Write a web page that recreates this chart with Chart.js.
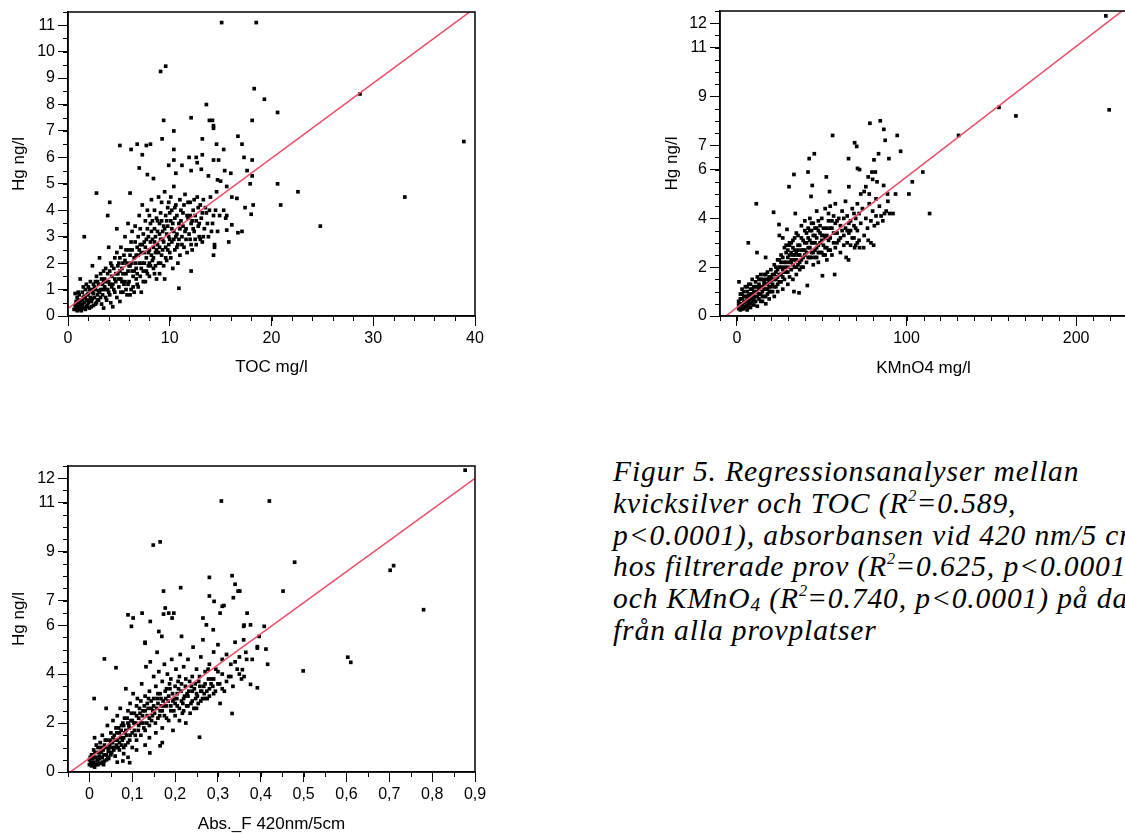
<!DOCTYPE html>
<html lang="sv">
<head>
  <meta charset="UTF-8" />
  <title>Figur 5 – Regressionsanalyser</title>
  <script src="https://cdn.jsdelivr.net/npm/chart.js@4"></script>
  <style>
    body {
      margin: 0;
      width: 1125px;
      height: 834px;
      overflow: hidden;
      position: relative;
      background: #fff;
    }
    canvas { position: absolute; }
    #tocChart { left: 0; top: 0; }
    #kmnChart { left: 650px; top: 0; }
    #absChart { left: 0; top: 454px; }
    #caption {
      position: absolute;
      left: 613px;
      top: 456px;
      font-family: "Liberation Serif", "Times New Roman", serif;
      font-style: italic;
      font-size: 29.5px;
      letter-spacing: 0.9px;
      line-height: 31.8px;
      white-space: nowrap;
      color: #000;
    }
    #caption sup { font-size: 0.55em; line-height: 0; vertical-align: 0.75em; letter-spacing: 0; }
    #caption sub { font-size: 0.65em; line-height: 0; vertical-align: -0.15em; }
  </style>
</head>
<body>
  <canvas id="tocChart" width="490" height="384"></canvas>
  <canvas id="kmnChart" width="490" height="384"></canvas>
  <canvas id="absChart" width="490" height="384"></canvas>

  <div id="caption">Figur 5. Regressionsanalyser mellan<br>kvicksilver och TOC (R<sup>2</sup>=0.589,<br>p&lt;0.0001), absorbansen vid 420 nm/5 cm<br>hos filtrerade prov (R<sup>2</sup>=0.625, p&lt;0.0001)<br>och KMnO<sub>4</sub> (R<sup>2</sup>=0.740, p&lt;0.0001) på data<br>från alla provplatser</div>

  <script>
    // Hg ng/l against TOC mg/l
    const tocPoints = [
      [15.1,11.1],[18.5,11.1],[9.1,9.25],[9.6,9.45],[18.3,8.6],[19.3,8.2],[28.7,8.4],[13.6,8.0],[20.6,7.7],[12.1,7.5],
      [9.4,7.4],[13.9,7.4],[14.2,7.4],[14.3,7.2],[14.3,7.1],[18.1,7.4],[10.4,7.0],[9.25,6.7],[13.2,6.7],[16.7,6.8],
      [17.1,6.5],[5.1,6.45],[6.2,6.3],[6.8,6.5],[7.7,6.45],[8.1,6.5],[7.3,6.1],[10.4,6.3],[14.6,6.5],[15.3,6.3],
      [38.9,6.6],[13.2,6.1],[11.9,6.0],[12.6,6.0],[10.4,5.9],[9.9,5.7],[11.2,5.7],[7.0,5.6],[12.7,5.8],[14.3,5.9],
      [14.8,5.9],[17.3,6.0],[18.1,5.9],[17.6,5.5],[15.4,5.5],[16.0,5.4],[10.6,5.4],[7.8,5.35],[8.4,5.2],[12.1,5.5],
      [13.1,5.55],[13.8,5.3],[14.7,5.15],[15.0,5.1],[17.9,5.0],[18.1,5.3],[20.6,5.0],[2.8,4.65],[6.1,4.65],[4.1,4.3],
      [22.6,4.7],[20.9,4.2],[33.1,4.5],[24.8,3.4],[3.9,3.8],[1.6,3.0],[10.9,1.05],[12.1,1.7],[15.8,2.8],[14.3,2.3],
      [14.4,2.6],[16.7,3.15],[17.1,3.2],[18.0,3.85],[18.2,4.2],[17.4,4.1],[16.6,4.45],[16.1,4.5],[16.1,3.45],[15.6,3.25],
      [15.6,3.8],[15.6,4.9],[14.6,4.7],
      [0.6,0.25],[0.7,0.4],[0.8,0.3],[0.8,0.55],[0.9,0.2],[0.9,0.7],[1.0,0.35],[1.0,0.5],[1.0,0.6],[1.1,0.25],
      [1.1,0.8],[1.2,0.45],[1.2,0.3],[1.2,1.4],[1.3,0.6],[1.3,0.2],[1.3,0.45],[1.4,0.4],[1.4,0.9],[1.5,0.3],
      [1.5,0.7],[0.7,0.85],[1.6,0.5],[1.6,0.75],[1.7,0.25],[1.7,1.0],[1.8,0.6],[1.9,0.4],[1.9,0.8],[2.0,1.1],
      [2.0,0.5],[2.0,0.85],[2.1,0.3],[2.2,0.7],[2.2,1.3],[2.3,0.55],[2.3,1.0],[2.4,0.9],[2.4,1.9],[2.5,0.4],
      [2.5,1.2],[2.6,0.7],[2.6,1.1],[2.7,1.0],[2.8,0.5],[2.8,1.5],[2.9,0.8],[2.9,1.3],[3.0,1.2],[3.0,0.6],
      [3.1,2.2],[3.1,0.9],[3.2,1.0],[3.3,0.45],[3.3,1.4],[3.4,0.8],[3.4,1.2],[3.5,1.7],[3.5,0.3],[3.6,1.1],
      [3.6,1.4],[3.7,0.7],[3.8,1.3],[3.9,1.6],[3.9,1.0],[4.0,0.9],[4.0,2.6],[4.1,1.2],[4.1,1.7],[4.2,0.5],
      [4.2,2.0],[4.3,1.5],[4.3,1.1],[4.4,0.35],[4.5,1.0],[4.5,1.8],[4.6,2.2],[4.6,1.4],[4.7,1.3],[4.8,0.7],
      [4.8,3.3],[4.9,1.6],[4.9,1.9],[5.0,2.0],[5.0,1.1],[5.1,0.55],[5.1,1.7],[5.2,1.4],[5.2,2.6],[5.3,1.8],
      [5.3,1.3],[5.4,0.9],[5.5,2.3],[5.5,1.2],[5.6,3.0],[5.6,2.1],[5.7,1.6],[5.7,1.0],[5.8,0.8],[5.8,2.0],
      [5.9,3.5],[5.9,1.7],[6.0,1.3],[6.0,2.5],[6.1,1.9],[6.1,2.3],[6.2,2.8],[6.2,1.0],[6.3,3.2],[6.3,1.7],
      [6.4,1.5],[6.5,2.2],[6.5,0.9],[6.6,3.4],[6.6,2.0],[6.7,1.8],[6.7,1.4],[6.8,2.6],[6.8,1.2],[6.9,3.0],
      [6.9,2.3],[7.0,2.0],[7.0,3.8],[7.1,1.5],[7.1,2.7],[7.2,2.4],[7.2,0.9],[7.3,4.2],[7.3,2.0],[7.4,1.7],
      [7.4,3.1],[7.5,2.8],[7.5,2.4],[7.6,1.3],[7.6,3.6],[7.7,2.2],[7.7,2.9],[7.8,4.0],[7.8,1.6],[7.9,1.9],
      [7.9,3.0],[8.0,2.5],[8.0,1.5],[8.0,2.0],[8.1,3.5],[8.2,4.4],[8.2,3.2],[8.3,2.1],[8.3,2.9],[8.4,1.8],
      [8.4,2.6],[8.5,3.3],[8.5,4.0],[8.5,1.6],[8.6,2.4],[8.6,3.0],[8.7,1.4],[8.7,3.7],[8.8,2.7],[8.8,3.6],
      [8.9,2.0],[8.9,4.5],[9.0,3.1],[9.0,1.6],[9.0,2.6],[9.1,3.9],[9.2,2.3],[9.2,4.3],[9.3,2.9],[9.3,3.2],
      [9.4,3.4],[9.4,1.9],[9.5,4.7],[9.5,1.4],[9.6,2.6],[9.6,3.8],[9.7,3.6],[9.7,2.1],[9.8,4.1],[9.9,3.0],
      [9.9,2.7],[10.0,2.4],[10.0,3.9],[10.1,4.5],[10.2,2.8],[10.2,3.3],[10.3,1.8],[10.3,3.5],[10.4,4.9],[10.5,3.7],
      [10.5,2.5],[10.6,4.2],[10.6,3.0],[10.7,3.1],[10.8,2.7],[10.8,2.0],[10.9,3.5],[11.0,4.4],[11.0,2.3],[11.1,3.6],
      [11.2,3.0],[11.3,3.9],[11.4,2.6],[11.5,4.6],[11.5,3.2],[11.6,3.3],[11.7,2.4],[11.8,3.7],[12.0,4.3],[12.0,2.9],
      [12.1,3.5],[12.2,2.5],[12.2,3.6],[12.3,4.0],[12.4,3.2],[12.5,3.8],[12.6,2.7],[12.7,4.5],[12.8,3.4],[12.9,3.0],
      [13.0,4.2],[13.1,3.7],[13.2,2.8],[13.3,4.4],[13.4,3.3],[13.6,3.9],[13.8,3.0],[14.0,4.5],[14.2,3.5],[14.4,2.7],
      [14.5,4.0],[14.7,3.2],[14.9,3.8],[15.3,4.0],[15.5,3.7],
      [0.8,0.45],[1.0,0.9],[1.1,0.55],[1.4,0.6],[1.5,1.1],[1.7,0.7],[1.8,0.35],[1.8,1.2],[2.1,0.6],[2.1,1.0],
      [2.3,0.35],[2.4,0.65],[2.5,0.85],[2.7,0.45],[2.7,1.3],[2.9,0.6],[3.0,0.95],[3.2,0.7],[3.2,1.6],[3.4,1.0],
      [3.5,1.3],[3.7,1.0],[3.7,1.8],[3.8,0.6],[4.0,1.3],[4.1,0.8],[4.3,1.9],[4.4,1.2],[4.6,0.9],[4.7,1.6],
      [4.8,2.4],[5.0,1.4],[5.1,2.2],[5.2,0.9],[5.4,1.6],[5.4,2.0],[5.6,1.3],[5.7,2.5],[5.9,1.2],[6.0,1.9],
      [6.1,0.8],[6.2,2.0],[6.3,2.5],[6.4,1.1],[6.5,1.7],[6.6,2.8],[6.7,2.3],[6.8,1.6],[6.9,1.1],[7.0,2.5],
      [7.1,3.3],[7.2,1.8],[7.3,2.7],[7.4,1.3],[7.5,2.0],[7.6,2.6],[7.7,1.7],[7.8,3.3],[7.9,2.4],[8.0,3.8],
      [8.1,1.9],[8.1,2.8],[8.2,2.3],[8.3,3.6],[8.4,2.2],[8.5,2.8],[8.6,1.9],[8.7,2.5],[8.8,3.2],[8.9,2.4],
      [9.0,3.5],[9.1,2.0],[9.1,2.9],[9.2,3.6],[9.3,2.5],[9.4,2.8],[9.5,3.3],[9.6,2.2],[9.7,3.1],[9.8,2.5],
      [9.8,3.4],[9.9,4.3],[10.0,2.9],[10.1,3.6],[10.1,2.2],[10.2,4.0],[10.4,2.9],[10.4,3.2],[10.5,4.1],[10.7,2.6],
      [10.7,3.8],[10.9,2.9],[11.0,3.3],[11.1,4.0],[11.2,2.7],[11.3,3.4],[11.4,4.2],[11.6,2.9],[11.7,3.8],[11.8,4.3],
      [11.9,3.1],[12.0,3.8],[12.1,2.7],[12.3,3.3],[12.4,4.4],[12.5,2.9],[12.6,3.6],[12.8,4.1],[12.9,3.5],[13.0,2.9],
      [13.2,3.9],[13.3,3.0],[13.5,4.1],[13.7,3.5],[13.9,4.0],[14.1,3.2],[14.3,3.8]
    ];

    // Hg ng/l against KMnO4 mg/l
    const kmnPoints = [
      [217.5,12.3],[219.5,8.45],[154.5,8.55],[164.5,8.2],[130.7,7.4],[113.6,4.2],[109.6,5.9],[103.4,5.5],[101.4,5.0],[93.5,5.0],
      [96.5,6.75],[94.5,7.4],[89.6,6.45],[87.4,7.2],[86.6,7.65],[84.5,8.0],[78.4,7.9],[56.4,7.4],[69.4,7.1],[70.6,6.95],
      [65.8,6.45],[83.5,6.65],[80.8,6.4],[42.6,6.45],[45.6,6.65],[41.9,5.9],[33.6,5.8],[30.7,5.3],[52.7,5.7],[71.1,6.05],
      [72.3,6.0],[77.4,5.7],[79.6,5.9],[81.6,5.9],[82.6,5.5],[86.5,5.35],[88.8,5.0],[44.4,5.35],[54.6,5.1],[43.7,4.9],
      [11.4,4.6],[21.6,4.25],[6.7,3.0],[11.8,2.6],[16.9,2.4],[34.4,4.2],[24.8,3.75],[29.5,3.55],[50.4,1.65],[57.6,1.7],
      [41.5,1.25],[36.6,0.95],[33.6,1.0],[1.2,1.4],[64.4,2.4],[65.8,2.3],[80.6,2.9],[77.4,3.1],[74.7,2.8],[69.4,2.8],
      [72.3,2.8],
      [1,0.3],[1,0.6],[2,0.25],[2,0.9],[2,0.5],[3,0.45],[3,0.7],[3,1.1],[4,0.3],[4,0.55],
      [4,0.8],[5,0.8],[5,1.2],[5,0.4],[6,0.25],[6,0.65],[6,1.0],[6,0.45],[7,0.5],[7,0.85],
      [7,1.3],[8,0.35],[8,1.1],[8,0.7],[8,0.5],[9,0.55],[9,0.9],[9,1.5],[10,0.45],[10,0.75],
      [10,1.2],[10,1.0],[11,1.0],[11,0.6],[11,1.4],[12,0.8],[12,1.6],[12,0.4],[12,1.2],[13,1.1],
      [13,1.3],[13,0.7],[14,0.9],[14,1.5],[14,1.7],[14,1.2],[15,0.6],[15,1.2],[15,1.0],[16,1.4],
      [16,0.8],[16,1.7],[16,1.1],[17,1.1],[17,0.5],[17,1.5],[18,1.3],[18,0.9],[18,1.8],[18,1.5],
      [19,1.6],[19,1.2],[19,0.7],[20,1.0],[20,1.45],[20,1.9],[20,1.2],[21,1.3],[21,1.7],[22,0.8],
      [22,1.5],[22,2.1],[22,1.7],[23,1.2],[23,1.8],[24,1.6],[24,2.3],[24,1.0],[24,1.9],[25,1.4],
      [25,2.0],[25,3.3],[26,1.7],[26,2.5],[26,2.0],[27,1.1],[27,1.9],[27,3.2],[28,1.5],[28,2.2],
      [28,2.8],[28,2.0],[29,1.8],[29,2.6],[30,1.3],[30,2.0],[30,2.4],[30,2.7],[31,1.6],[31,2.9],
      [31,3.0],[32,2.2],[32,1.9],[32,2.6],[33,2.5],[33,1.5],[33,3.1],[34,2.0],[34,2.7],[34,2.3],
      [35,1.7],[35,2.3],[35,3.4],[36,2.1],[36,2.9],[36,2.5],[37,2.5],[37,1.9],[38,3.2],[38,2.3],
      [38,3.7],[38,2.7],[39,2.7],[39,2.0],[40,3.0],[40,2.5],[40,3.9],[41,2.2],[41,3.4],[42,2.8],
      [42,3.6],[42,3.2],[43,2.4],[43,3.1],[43,4.0],[44,2.6],[44,3.5],[44,3.0],[45,3.0],[45,2.1],
      [45,3.8],[46,2.7],[46,3.3],[46,3.0],[47,2.4],[47,4.3],[47,3.6],[48,2.9],[48,2.2],[48,3.5],
      [49,3.4],[49,2.6],[50,3.1],[50,4.0],[50,3.3],[51,2.5],[51,3.6],[52,2.8],[52,4.4],[52,3.2],
      [53,3.3],[53,2.3],[54,3.9],[54,2.7],[55,3.2],[55,4.5],[56,3.6],[56,2.5],[56,3.9],[57,4.1],
      [57,3.0],[58,4.6],[58,2.8],[58,3.8],[59,3.4],[60,4.0],[60,3.1],[61,3.7],[61,2.6],[62,4.3],
      [62,3.5],[63,3.3],[63,2.9],[64,4.7],[64,3.6],[65,3.0],[65,4.1],[66,3.4],[66,5.3],[66,3.8],
      [67,3.9],[67,2.9],[68,4.4],[68,3.2],[69,3.7],[70,4.0],[70,2.9],[70,3.6],[71,3.5],[71,4.6],
      [72,3.1],[72,4.2],[73,5.0],[73,3.8],[74,4.4],[75,3.3],[75,5.1],[76,4.0],[76,5.3],[77,3.6],
      [78,4.6],[78,5.0],[79,3.9],[79,3.0],[80,4.3],[80,5.6],[81,3.7],[82,4.1],[82,4.8],[83,3.8],
      [84,4.5],[85,4.1],[86,3.9],[87,4.2],[88,4.3],[89,4.7],[90,4.2],[92,4.2],
      [1,0.45],[2,0.7],[3,0.3],[3,0.9],[4,1.0],[5,0.6],[6,0.8],[6,1.2],[7,0.35],[7,0.65],
      [8,0.9],[8,1.3],[9,0.7],[9,1.1],[10,0.6],[11,0.8],[11,1.2],[12,1.0],[13,0.9],[13,1.5],
      [14,0.6],[15,0.8],[15,1.5],[16,1.3],[17,0.8],[17,1.3],[17,1.7],[18,1.1],[19,1.0],[19,1.4],
      [20,1.6],[21,1.0],[21,1.5],[22,1.2],[23,1.5],[23,2.0],[24,1.3],[25,1.7],[25,2.3],[26,1.4],
      [26,2.2],[27,1.6],[27,2.4],[28,1.8],[29,2.2],[29,2.9],[30,1.8],[31,2.2],[31,2.5],[32,2.3],
      [32,3.0],[33,2.1],[33,2.8],[34,2.5],[34,3.2],[35,2.6],[35,2.0],[36,2.7],[36,3.3],[37,2.2],
      [37,2.9],[38,2.0],[39,2.4],[39,3.1],[40,2.7],[40,3.5],[41,2.6],[41,3.0],[42,2.4],[43,2.8],
      [43,3.5],[44,2.4],[44,3.8],[45,2.6],[45,3.3],[46,2.4],[46,3.6],[47,2.8],[47,3.2],[48,2.6],
      [48,3.9],[49,3.0],[49,3.7],[50,2.6],[51,2.9],[51,3.3],[52,2.5],[53,2.8],[53,3.6],[54,3.1],
      [54,4.2],[55,2.7],[55,3.6],[57,3.4],[59,3.0],[59,3.9],[61,3.2],[63,4.0],[65,3.5],[67,3.5],
      [69,3.2],[69,4.2],[71,3.0]
    ];

    // Hg ng/l against Abs._F 420nm/5cm
    const absPoints = [
      [0.877,12.33],[0.308,11.07],[0.42,11.07],[0.149,9.27],[0.165,9.4],[0.479,8.57],[0.702,8.24],[0.71,8.43],[0.78,6.63],[0.603,4.69],
      [0.61,4.48],[0.499,4.13],[0.452,7.39],[0.333,8.02],[0.34,7.67],[0.28,7.95],[0.213,7.53],[0.173,7.39],[0.347,7.39],[0.351,7.39],
      [0.28,7.19],[0.336,7.12],[0.291,6.97],[0.31,6.77],[0.314,6.8],[0.305,6.49],[0.177,6.7],[0.173,6.45],[0.185,6.49],[0.197,6.49],
      [0.193,6.29],[0.09,6.42],[0.102,6.29],[0.098,5.95],[0.123,6.49],[0.142,6.15],[0.368,6.49],[0.265,6.29],[0.273,6.01],[0.289,5.81],
      [0.36,5.95],[0.361,6.0],[0.376,6.01],[0.408,5.95],[0.396,5.54],[0.392,5.06],[0.392,5.12],[0.412,5.02],[0.416,4.4],[0.365,4.89],
      [0.367,4.6],[0.38,4.6],[0.357,4.18],[0.361,3.9],[0.376,3.58],[0.392,3.44],[0.333,2.39],[0.257,1.42],[0.165,1.07],[0.141,0.78],
      [0.078,0.45],[0.094,0.38],[0.035,4.62],[0.062,4.26],[0.011,3.0],[0.039,2.6],[0.169,5.54],[0.162,5.74],[0.158,4.89],[0.13,5.26],
      [0.13,5.3],[0.215,5.54],
      [0.0,0.3],[0.0,0.5],[0.005,0.25],[0.005,0.7],[0.01,0.4],[0.01,0.9],[0.012,1.4],[0.015,0.3],[0.015,0.6],[0.02,0.5],
      [0.02,1.0],[0.022,0.8],[0.025,0.35],[0.025,1.2],[0.03,0.6],[0.03,1.5],[0.032,0.9],[0.035,0.45],[0.035,1.1],[0.04,0.7],
      [0.04,1.3],[0.042,1.9],[0.045,0.95],[0.045,0.55],[0.05,1.2],[0.05,1.6],[0.052,0.8],[0.055,1.4],[0.055,2.1],[0.06,1.0],
      [0.06,0.65],[0.062,1.8],[0.065,1.3],[0.065,2.3],[0.07,0.9],[0.07,1.6],[0.072,2.6],[0.075,1.1],[0.075,1.9],[0.08,1.4],
      [0.08,0.75],[0.082,2.2],[0.085,1.7],[0.085,3.4],[0.09,1.2],[0.09,2.5],[0.092,1.9],[0.095,1.5],[0.095,2.8],[0.1,1.0],
      [0.1,2.1],[0.102,3.2],[0.105,1.7],[0.105,2.4],[0.11,1.3],[0.11,2.7],[0.112,3.0],[0.115,1.9],[0.115,2.2],[0.12,1.5],
      [0.12,2.9],[0.122,3.6],[0.125,2.0],[0.125,2.5],[0.13,1.7],[0.13,3.1],[0.132,4.3],[0.135,2.3],[0.135,2.8],[0.14,1.9],
      [0.14,3.3],[0.142,4.5],[0.145,2.6],[0.145,2.1],[0.15,3.0],[0.15,3.9],[0.152,2.4],[0.155,1.6],[0.155,3.5],[0.16,2.8],
      [0.16,2.2],[0.162,4.1],[0.165,3.2],[0.165,2.5],[0.17,1.8],[0.17,3.7],[0.172,2.9],[0.175,4.4],[0.175,2.3],[0.18,3.4],
      [0.18,2.7],[0.182,4.0],[0.185,2.1],[0.185,3.1],[0.19,3.8],[0.19,2.5],[0.192,4.6],[0.195,2.9],[0.195,1.7],[0.2,3.5],
      [0.2,2.3],[0.202,4.2],[0.205,2.7],[0.205,3.2],[0.21,3.9],[0.21,2.1],[0.212,4.8],[0.215,2.9],[0.215,3.6],[0.22,2.5],
      [0.22,4.3],[0.222,3.1],[0.225,2.0],[0.225,3.8],[0.23,2.7],[0.23,4.6],[0.232,3.3],[0.235,2.4],[0.24,3.9],[0.24,2.9],
      [0.242,5.1],[0.245,3.4],[0.25,2.6],[0.25,4.2],[0.252,3.1],[0.255,3.7],[0.26,2.9],[0.26,4.7],[0.262,3.3],[0.265,5.4],
      [0.27,3.6],[0.27,4.1],[0.275,3.0],[0.28,4.4],[0.28,3.4],[0.285,3.8],[0.29,4.9],[0.29,3.2],[0.295,4.2],[0.3,3.6],
      [0.3,5.2],[0.305,2.8],[0.31,4.0],[0.31,4.6],[0.315,3.3],[0.32,4.8],[0.325,3.9],[0.33,4.4],[0.335,3.5],[0.34,5.3],
      [0.345,4.2],[0.35,4.7],[0.355,3.8],[0.36,5.4],[0.065,0.4],[0.08,1.0],[0.09,0.6],[0.11,0.9],[0.13,1.1],[0.14,1.4],
      [0.17,1.2],[0.003,0.4],[0.008,0.55],[0.012,0.2],[0.018,0.45],[0.023,0.65],[0.028,0.8],[0.033,0.3],[0.038,1.0],[0.043,0.6],
      [0.048,1.3],[0.053,1.0],[0.058,1.5],[0.063,1.1],[0.068,1.8],[0.073,1.4],[0.078,2.0],[0.083,1.6],[0.088,2.2],[0.093,1.8],
      [0.098,2.4],[0.108,2.0],[0.118,2.4],[0.128,2.7],[0.138,3.0],[0.148,2.5],[0.158,3.0],[0.168,2.7],[0.178,3.0],[0.188,3.4],
      [0.198,3.0],[0.208,3.4],[0.218,2.8],[0.228,3.2],[0.238,3.5],[0.248,3.0],[0.258,3.5],[0.268,3.2],[0.278,3.8],[0.288,3.5],
      [0.002,0.6],[0.007,0.3],[0.01,0.6],[0.013,0.8],[0.016,1.1],[0.02,0.3],[0.024,0.55],[0.027,1.0],[0.03,0.4],[0.034,0.7],
      [0.037,1.3],[0.04,0.5],[0.044,0.85],[0.047,1.1],[0.05,0.7],[0.054,1.2],[0.057,0.9],[0.06,1.3],[0.064,1.6],[0.067,1.0],
      [0.07,1.2],[0.074,1.7],[0.077,1.3],[0.08,1.9],[0.084,1.1],[0.087,1.5],[0.09,2.0],[0.094,1.3],[0.097,2.1],[0.1,1.6],
      [0.104,2.0],[0.107,1.5],[0.11,2.3],[0.114,1.7],[0.117,2.6],[0.12,2.0],[0.124,2.3],[0.127,1.8],[0.13,2.5],[0.134,2.0],
      [0.137,2.6],[0.14,2.2],[0.144,2.9],[0.147,2.3],[0.15,2.7],[0.154,2.0],[0.157,2.6],[0.16,3.2],[0.164,2.3],[0.167,3.0],
      [0.17,2.5],[0.174,2.7],[0.177,3.3],[0.18,2.2],[0.184,2.9],[0.187,3.6],[0.19,2.7],[0.194,3.2],[0.197,2.5],[0.2,2.8],
      [0.204,3.0],[0.207,3.7],[0.21,2.6],[0.214,3.3],[0.217,2.4],[0.22,3.0],[0.224,3.5],[0.227,2.7],[0.23,3.1],[0.234,3.7],
      [0.237,2.8],[0.24,3.3],[0.244,2.6],[0.247,3.6],[0.25,3.2],[0.254,2.8],[0.257,3.9],[0.26,3.3],[0.264,3.0],[0.267,3.5],
      [0.27,3.0],[0.274,3.3],[0.277,4.2],[0.28,3.1],[0.284,3.6],[0.29,3.8],[0.294,3.3],[0.3,4.1],[0.304,3.6],[0.31,3.4],
      [0.32,3.7],[0.33,3.9],[0.34,4.5],[0.35,4.0]
    ];

    // regression lines: [intercept, slope]
    const tocFit = [0.29, 0.284];
    const kmnFit = [0.35, 0.0535];
    const absFit = [0.565, 12.7];

    // labelled ticks
    const tocTicksX = [0, 10, 20, 30, 40];
    const tocTicksY = [0, 1, 2, 3, 4, 5, 6, 7, 8, 9, 10, 11];
    const kmnTicksX = [0, 100, 200];
    const kmnTicksY = [0, 2, 4, 6, 7, 9, 11, 12];
    const absTicksX = [0, 0.1, 0.2, 0.3, 0.4, 0.5, 0.6, 0.7, 0.8, 0.9];
    const absTicksY = [0, 2, 4, 6, 7, 9, 11, 12];

    const TICK_FONT = { family: "'Liberation Sans', Arial, sans-serif", size: 16 };
    const TITLE_FONT = { family: "'Liberation Sans', Arial, sans-serif", size: 17 };

    // short unlabelled ticks plus the closed frame round the plot
    const axisDecor = {
      id: 'axisDecor',
      afterDraw(chart, args, opts) {
        const { ctx, chartArea: a, scales: { x, y } } = chart;
        ctx.save();
        ctx.strokeStyle = '#000';
        ctx.lineWidth = 1;
        ctx.beginPath();
        for (let i = 0; ; i++) {
          const v = x.min + i * opts.xStep;
          if (v > x.max + 1e-9) break;
          const px = Math.round(x.getPixelForValue(v)) + 0.5;
          ctx.moveTo(px, a.bottom);
          ctx.lineTo(px, a.bottom + 5);
        }
        for (let i = 0; ; i++) {
          const v = y.min + i * opts.yStep;
          if (v > y.max + 1e-9) break;
          const py = Math.round(y.getPixelForValue(v)) + 0.5;
          ctx.moveTo(a.left, py);
          ctx.lineTo(a.left - 5, py);
        }
        ctx.stroke();
        ctx.lineWidth = 1.5;
        ctx.strokeRect(a.left, a.top, a.right - a.left, a.bottom - a.top);
        ctx.restore();
      }
    };

    function makeChart(id, s) {
      const fitLine = [s.xMin, s.xMax].map(v => ({ x: v, y: s.fit[0] + s.fit[1] * v }));
      return new Chart(document.getElementById(id), {
        type: 'scatter',
        data: {
          datasets: [
            {
              type: 'line', data: fitLine, showLine: true, borderColor: '#f04a64', borderWidth: 1.5,
              pointRadius: 0, fill: false, tension: 0, order: 0
            },
            {
              data: s.points.map(p => ({ x: p[0], y: p[1] })), order: 1,
              pointStyle: 'rect', pointRadius: 2.6, pointBackgroundColor: '#000', pointBorderWidth: 0,
              backgroundColor: '#000', borderWidth: 0
            }
          ]
        },
        plugins: [axisDecor],
        options: {
          responsive: false,
          animation: false,
          events: [],
          layout: { padding: { top: s.padTop, right: s.padRight, bottom: 0, left: 0 } },
          plugins: {
            legend: { display: false },
            tooltip: { enabled: false },
            axisDecor: { xStep: s.xStep, yStep: s.yStep }
          },
          scales: {
            x: {
              type: 'linear', min: s.xMin, max: s.xMax,
              afterBuildTicks: sc => { sc.ticks = s.xTicks.map(v => ({ value: v })); },
              afterFit: sc => { sc.height = s.xHeight; sc.paddingLeft = 0; sc.paddingRight = 0; },
              grid: { drawOnChartArea: false, tickLength: 10, tickColor: '#000', tickWidth: 1 },
              border: { display: true, color: '#000', width: 1.5 },
              ticks: { color: '#000', font: TICK_FONT, padding: 3, autoSkip: false, maxRotation: 0, callback: s.xFmt },
              title: { display: true, text: s.xTitle, color: '#000', font: TITLE_FONT, padding: { top: 0, bottom: s.xTitlePad } }
            },
            y: {
              type: 'linear', min: 0, max: s.yMax,
              afterBuildTicks: sc => { sc.ticks = s.yTicks.map(v => ({ value: v })); },
              afterFit: sc => { sc.width = s.yWidth; sc.paddingTop = 0; sc.paddingBottom = 0; },
              grid: { drawOnChartArea: false, tickLength: 10, tickColor: '#000', tickWidth: 1 },
              border: { display: true, color: '#000', width: 1.5 },
              ticks: { color: '#000', font: TICK_FONT, padding: 3, autoSkip: false, callback: v => String(v) },
              title: { display: true, text: 'Hg ng/l', color: '#000', font: TITLE_FONT, padding: { top: s.yTitlePad, bottom: 0 } }
            }
          }
        }
      });
    }

    makeChart('tocChart', {
      points: tocPoints, fit: tocFit, xMin: 0, xMax: 40, yMax: 11.5,
      xTicks: tocTicksX, yTicks: tocTicksY, xStep: 2, yStep: 0.5,
      xTitle: 'TOC mg/l', xFmt: v => String(v),
      padTop: 12, padRight: 15, xHeight: 68, yWidth: 68, xTitlePad: 6, yTitlePad: 9
    });

    makeChart('kmnChart', {
      points: kmnPoints, fit: kmnFit, xMin: -10, xMax: 230, yMax: 12.5,
      xTicks: kmnTicksX, yTicks: kmnTicksY, xStep: 10, yStep: 0.5,
      xTitle: 'KMnO4 mg/l', xFmt: v => String(v),
      padTop: 11, padRight: 13, xHeight: 68, yWidth: 70, xTitlePad: 5, yTitlePad: 12
    });

    makeChart('absChart', {
      points: absPoints, fit: absFit, xMin: -0.05, xMax: 0.9, yMax: 12.5,
      xTicks: absTicksX, yTicks: absTicksY, xStep: 0.05, yStep: 0.5,
      xTitle: 'Abs._F 420nm/5cm', xFmt: v => (v === 0 ? '0' : v.toFixed(1).replace('.', ',')),
      padTop: 12, padRight: 15, xHeight: 66, yWidth: 68, xTitlePad: 3, yTitlePad: 9
    });
  </script>
</body>
</html>
